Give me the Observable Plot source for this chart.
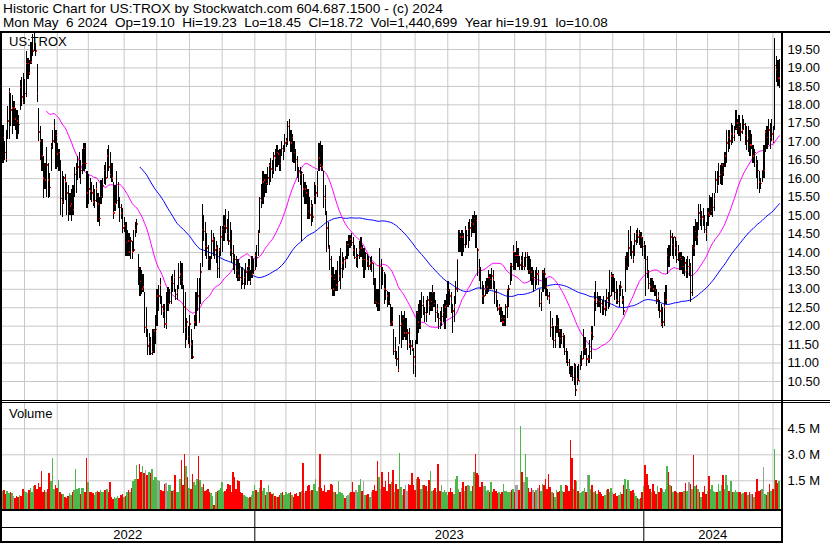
<!DOCTYPE html>
<html><head><meta charset="utf-8">
<script src="https://cdn.jsdelivr.net/npm/d3@7"></script>
<script src="https://cdn.jsdelivr.net/npm/@observablehq/plot@0.6"></script>
<style>
html,body{margin:0;padding:0;background:#fff;}
#wrap{position:relative;width:830px;height:543px;overflow:hidden;font-family:"Liberation Sans",Arial,sans-serif;color:#000;}
.txt{position:absolute;font-size:13px;white-space:pre;line-height:14px;}
.ln{position:absolute;background:#000;}
.panel{position:absolute;left:0;}
</style></head><body>
<div id="wrap">
  <div class="txt" style="left:3px;top:2px;transform:scaleX(1.055);transform-origin:0 0">Historic Chart for US:TROX by Stockwatch.com 604.687.1500 - (c) 2024</div>
  <div class="txt" style="left:3px;top:16px;transform:scaleX(1.04);transform-origin:0 0">Mon May  6 2024  Op=19.10  Hi=19.23  Lo=18.45  Cl=18.72  Vol=1,440,699  Year hi=19.91  lo=10.08</div>
  <div class="panel" id="price" style="top:32px"></div>
  <div class="panel" id="volume" style="top:403px"></div>
  <div class="panel" id="dates" style="top:509px"></div>
  <div class="txt" style="left:9px;top:35px">US:TROX</div>
  <div class="txt" style="left:9px;top:407px">Volume</div>
  <div class="ln" style="left:0;top:31px;width:830px;height:2px"></div>
  <div class="ln" style="left:0;top:400px;width:830px;height:1px"></div>
  <div class="ln" style="left:0;top:402px;width:830px;height:1px"></div>
  <div class="ln" style="left:0;top:509px;width:783px;height:2px"></div>
  <div class="ln" style="left:0;top:527px;width:783px;height:1px"></div>
  <div class="ln" style="left:0;top:541px;width:783px;height:2px"></div>
  <div class="ln" style="left:0;top:31px;width:2px;height:512px"></div>
  <div class="ln" style="left:781px;top:31px;width:2px;height:512px"></div>
</div>
<script>
// ---- data (daily bars, May 2022 - May 6 2024) ----
const high = [
17.4,17.45,17.0,17.3,17.95,18.45,18.3,18.25,18.1,17.9,
17.85,17.7,18.65,18.75,18.85,18.7,19.45,19.25,19.2,19.7,
19.9,19.95,19.65,19.1,17.9,17.4,17.05,16.6,16.4,16.85,
16.4,16.15,16.95,17.3,17.6,17.3,16.95,16.8,16.5,16.2,
16.05,16.1,15.9,15.8,15.6,15.7,15.8,16.3,16.4,16.6,
16.7,16.5,16.8,16.95,16.95,16.2,16.1,16.0,15.9,15.8,
15.7,15.9,15.6,15.5,15.95,16.0,16.35,16.45,16.8,16.9,
16.7,16.4,15.9,15.8,16.2,15.9,15.5,15.3,15.2,14.95,
14.8,14.6,14.5,14.4,14.3,14.6,14.8,14.9,13.95,13.6,
13.5,13.4,12.9,12.5,11.9,11.8,11.7,11.9,11.9,12.3,
13.0,13.1,13.3,12.8,12.6,12.6,12.9,13.05,13.0,13.35,
13.4,13.5,13.0,13.1,13.7,13.75,13.7,13.1,12.9,12.2,
12.0,12.3,11.9,11.6,12.3,12.9,13.3,13.3,13.7,15.3,
15.0,14.8,14.5,14.2,13.9,14.6,14.5,14.4,14.3,14.2,
14.1,14.7,14.7,15.0,15.15,14.9,15.1,14.8,14.6,14.2,
13.95,13.9,13.8,13.7,13.6,13.6,13.5,13.7,13.6,13.8,
13.5,13.9,13.8,14.0,14.2,14.6,15.5,15.85,16.2,16.1,
16.1,16.3,16.4,16.55,16.5,16.7,16.8,16.9,16.75,16.8,
17.0,16.9,17.2,17.1,17.55,17.6,17.3,17.2,17.0,16.8,
16.6,16.3,16.3,16.2,16.1,15.9,15.8,15.7,15.5,15.4,
15.3,15.9,15.8,16.2,16.95,17.0,16.9,16.2,15.8,15.1,
14.8,14.2,13.9,13.6,13.4,13.5,13.75,13.9,14.1,14.0,
13.85,13.9,14.3,14.45,14.45,14.5,14.4,14.2,14.1,13.95,
14.3,14.4,14.2,14.1,14.0,13.95,13.9,13.85,13.9,13.7,
13.3,13.0,13.0,14.1,13.8,13.6,13.45,13.4,12.95,12.9,
12.6,12.5,11.9,11.7,11.3,11.45,12.3,12.4,12.3,12.4,
12.2,11.9,11.95,11.6,11.6,11.4,11.6,12.4,12.6,12.7,
12.9,12.8,12.5,12.7,12.8,12.9,12.9,13.1,12.9,12.7,
12.6,12.35,12.4,12.5,12.6,12.7,12.85,13.2,13.0,12.9,
12.6,12.8,13.2,13.8,14.6,14.5,14.6,14.5,14.7,14.6,
14.8,14.9,14.9,15.0,15.1,15.0,14.1,13.8,13.6,13.2,
13.1,13.2,13.3,13.5,13.4,13.55,13.5,13.2,13.0,12.7,
12.6,12.5,12.4,12.3,12.6,13.0,13.1,13.7,13.7,14.2,
14.0,14.3,14.1,13.9,13.9,14.0,13.85,14.0,14.0,13.9,
13.8,13.6,13.5,13.5,13.6,13.5,13.0,12.9,13.5,13.55,
13.3,13.0,12.9,12.4,12.2,12.0,12.0,12.3,12.2,11.9,
11.9,11.8,11.75,11.4,11.3,11.1,10.9,10.9,11.0,10.95,
10.9,10.95,11.2,11.3,11.9,11.7,11.4,11.2,11.6,12.0,
12.0,12.9,13.2,12.9,12.8,12.8,12.7,12.8,12.7,13.0,
12.9,13.5,13.45,13.4,13.3,13.2,13.0,13.1,13.2,13.0,
12.8,13.9,14.0,14.6,14.7,14.3,14.2,14.5,14.6,14.65,
14.6,14.55,14.4,14.3,14.2,13.9,13.5,13.3,13.3,13.2,
13.1,13.0,12.9,12.7,12.6,12.5,12.9,13.1,14.1,14.2,
14.6,14.5,14.4,14.4,14.3,14.2,14.0,14.0,13.9,13.85,
13.8,13.9,13.8,13.7,14.2,14.7,14.9,14.8,15.3,15.3,
15.1,15.2,15.0,14.8,15.2,15.55,15.5,15.6,15.6,16.2,
16.2,16.4,16.35,16.4,16.4,16.7,17.3,17.3,17.3,17.5,
17.45,17.4,17.85,17.6,17.7,17.5,17.7,17.6,17.5,17.4,
17.4,17.3,17.2,16.9,16.8,16.6,16.5,16.2,16.0,16.2,
16.9,17.3,17.4,17.6,17.5,17.6,17.4,19.8,19.3,19.2,
19.23];
const low = [
16.3,16.4,16.5,16.45,17.05,17.05,17.4,17.2,17.4,17.3,
17.05,17.2,17.85,17.95,18.0,18.0,18.2,18.7,18.8,19.1,
19.3,19.45,19.3,18.05,17.0,16.5,16.2,15.45,15.7,15.5,
15.45,15.5,16.2,16.8,16.95,16.25,16.3,16.2,15.0,14.95,
15.3,15.4,15.0,14.85,15.0,14.85,15.0,15.5,15.6,15.95,
16.0,15.85,16.1,16.2,16.25,15.2,15.3,15.4,15.35,15.25,
15.2,15.35,14.8,14.7,15.3,15.45,15.85,15.8,16.0,16.2,
16.0,15.9,14.9,15.1,15.3,15.2,14.8,14.9,14.5,14.55,
13.9,13.9,13.9,13.8,13.8,14.0,14.4,14.5,13.1,12.8,
12.85,12.9,11.8,11.7,11.2,11.2,11.2,11.2,11.25,11.5,
12.0,12.4,12.6,12.3,12.2,11.95,11.9,12.4,12.6,12.6,
12.9,12.9,12.7,12.7,13.0,13.1,13.0,11.8,11.4,11.6,
11.5,11.4,11.1,11.1,11.9,12.0,12.4,12.1,12.6,13.6,
14.3,13.9,13.8,13.5,13.5,13.8,13.9,13.8,13.7,13.3,
13.3,13.9,14.0,14.3,14.5,14.3,14.2,13.9,13.7,13.5,
13.4,13.3,13.2,13.2,13.0,13.1,13.0,13.1,13.1,13.2,
13.1,13.3,13.4,13.5,13.6,13.9,14.5,15.2,15.3,15.5,
15.6,15.8,15.8,15.9,16.0,16.1,16.2,16.3,16.35,16.2,
16.6,16.5,16.7,16.85,16.9,17.0,16.7,16.45,16.4,16.2,
16.0,15.9,15.8,14.3,15.5,15.3,15.3,14.9,14.9,14.7,
14.8,15.3,15.3,15.5,16.2,16.3,16.2,15.2,15.0,14.0,
14.1,13.5,13.0,12.8,12.8,12.95,12.95,13.2,13.0,13.3,
13.5,13.55,13.8,13.9,14.1,14.15,13.9,13.8,13.6,13.55,
13.8,13.85,13.6,13.3,13.5,13.6,13.5,13.5,13.45,13.1,
12.6,12.5,12.4,12.4,13.0,13.1,12.6,12.7,12.5,12.55,
12.0,12.0,11.2,11.1,10.9,10.75,11.5,11.4,11.6,11.7,
11.6,11.35,11.4,11.2,11.3,10.7,10.6,11.5,11.8,11.9,
12.2,12.3,12.1,12.1,12.35,12.3,12.4,12.4,12.5,12.1,
12.2,11.9,11.9,12.0,12.1,11.9,12.2,12.5,12.55,12.35,
11.8,12.1,12.6,12.9,14.0,14.0,13.9,14.0,14.1,14.2,
14.1,14.3,14.4,14.5,14.5,14.1,13.35,13.2,13.0,12.6,
12.6,12.8,12.85,12.9,13.0,13.0,13.0,12.6,12.5,12.4,
12.3,12.1,12.0,12.0,12.0,12.2,12.5,13.1,13.2,13.5,
13.5,13.7,13.6,13.5,13.5,13.5,13.5,13.6,13.5,13.4,
13.2,13.1,12.9,13.0,13.1,13.1,12.5,12.4,12.9,13.0,
12.8,12.7,12.6,11.7,11.6,11.4,11.4,11.8,11.7,11.4,
11.5,11.4,11.2,11.0,10.9,10.7,10.6,10.5,10.4,10.08,
10.4,10.5,10.8,10.9,11.1,11.2,10.9,11.0,11.0,11.1,
11.6,12.0,12.4,12.5,12.5,12.35,12.3,12.3,12.25,12.4,
12.45,12.5,12.8,12.9,12.7,12.6,12.6,12.5,12.8,12.6,
12.3,12.9,13.5,13.6,13.9,13.8,13.7,13.9,14.2,14.25,
14.2,14.1,13.9,13.8,12.8,13.3,13.0,12.9,12.9,12.9,
12.8,12.6,12.4,12.2,12.0,11.95,12.0,12.6,13.4,13.6,
13.9,13.9,13.8,13.9,13.7,13.75,13.5,13.5,13.4,13.35,
13.3,13.3,13.35,12.65,12.8,13.9,14.3,14.2,14.6,14.7,
14.6,14.7,14.5,14.3,14.7,14.95,15.0,14.95,15.1,15.6,
15.6,15.8,15.85,15.8,16.05,16.3,16.4,16.7,16.8,16.9,
16.95,17.0,17.3,17.2,17.15,17.0,17.2,17.3,16.9,16.75,
16.7,16.6,16.8,16.4,16.3,16.0,15.7,15.6,15.7,15.9,
16.0,16.7,16.8,16.9,16.8,17.0,16.95,17.3,18.6,18.5,
18.45];
const close = [
16.9,17.1,16.7,16.5,17.55,18.35,17.85,17.9,17.9,17.6,
17.55,17.45,18.45,18.2,18.05,18.3,19.1,19.1,18.85,19.15,
19.45,19.6,19.45,18.3,17.25,17.0,16.6,16.0,15.95,16.35,
15.95,15.75,16.85,17.0,17.4,17.15,16.65,16.7,15.45,15.35,
16.0,15.9,15.6,15.1,15.25,15.3,15.15,16.1,16.2,16.3,
16.5,16.2,16.4,16.8,16.4,15.6,15.7,15.65,15.6,15.35,
15.4,15.7,15.3,14.9,15.5,15.8,16.2,16.0,16.6,16.3,
16.1,16.0,15.05,15.3,15.4,15.8,15.2,15.05,14.65,14.7,
14.25,14.3,14.0,14.3,14.0,14.05,14.6,14.75,13.55,13.2,
13.0,13.05,11.95,11.95,11.45,11.55,11.25,11.3,11.85,11.9,
12.8,12.8,13.1,12.5,12.4,12.05,12.05,12.6,12.65,13.2,
13.15,13.3,12.85,12.9,13.3,13.4,13.2,12.5,11.95,12.1,
11.7,12.05,11.5,11.15,12.1,12.3,12.8,12.1,13.45,14.6,
14.55,14.15,14.1,13.8,13.55,14.3,14.35,14.05,14.1,13.55,
14.05,14.4,14.6,14.7,14.65,14.5,14.3,14.05,13.95,13.85,
13.8,13.5,13.35,13.3,13.25,13.15,13.3,13.45,13.5,13.6,
13.2,13.4,13.5,13.9,13.85,14.5,15.45,15.4,15.9,15.95,
15.85,16.0,16.35,16.25,16.2,16.6,16.55,16.7,16.65,16.4,
16.8,16.75,16.95,17.0,17.4,17.45,16.95,17.1,16.7,16.5,
16.4,16.2,16.1,16.15,15.7,15.7,15.6,15.1,15.0,15.25,
14.95,15.5,15.6,15.8,16.55,16.35,16.3,15.5,15.45,14.65,
14.1,13.8,13.35,13.0,13.25,13.1,13.2,13.35,13.55,13.7,
13.8,13.75,14.2,14.2,14.35,14.25,14.05,13.85,13.85,13.9,
14.05,14.1,13.8,13.8,13.95,13.75,13.62,13.7,13.7,13.3,
12.65,12.63,12.6,13.6,13.6,13.5,13.0,12.95,12.8,12.65,
12.05,12.1,11.3,11.35,11.1,10.8,12.0,12.05,12.2,11.8,
11.8,11.8,11.5,11.45,11.4,11.15,10.95,12.35,12.1,12.0,
12.55,12.6,12.35,12.3,12.7,12.55,12.65,12.9,12.6,12.35,
12.45,12.2,12.1,12.25,12.35,12.5,12.55,12.95,12.8,12.65,
12.4,12.5,13.0,13.8,14.55,14.4,14.4,14.2,14.6,14.45,
14.6,14.65,14.8,14.75,14.9,14.85,14.05,13.55,13.5,12.8,
12.8,13.0,13.05,13.3,13.25,13.35,13.25,12.9,12.85,12.45,
12.5,12.2,12.1,12.2,12.5,12.95,13.0,13.65,13.6,14.0,
13.9,13.9,13.9,13.65,13.75,13.6,13.6,13.85,13.95,13.5,
13.45,13.3,13.3,13.25,13.4,13.4,12.6,12.65,13.45,13.4,
13.05,12.8,12.75,11.95,12.0,11.6,11.65,12.0,11.85,11.65,
11.7,11.75,11.3,11.05,11.0,10.9,10.65,10.6,10.9,10.25,
10.55,10.5,10.95,11.1,11.35,11.4,11.1,11.1,11.3,11.8,
11.7,12.7,12.6,12.7,12.65,12.6,12.55,12.45,12.5,12.75,
12.65,12.8,13.35,13.35,12.9,12.7,12.65,12.9,13.05,12.7,
12.4,13.85,13.6,14.1,14.5,14.0,13.8,14.3,14.5,14.4,
14.5,14.4,14.15,14.2,13.8,13.45,13.15,13.05,13.25,13.0,
12.95,12.7,12.8,12.4,12.05,12.1,12.5,12.7,13.9,13.8,
14.4,14.2,14.4,14.1,13.8,14.0,13.85,13.8,13.6,13.7,
13.5,13.6,13.6,12.9,14.15,14.1,14.55,14.4,15.05,14.9,
14.95,14.9,14.6,14.5,15.05,15.0,15.1,15.2,15.45,15.95,
15.8,16.05,16.1,16.35,16.15,16.6,16.95,17.1,17.0,17.2,
17.1,17.2,17.35,17.5,17.4,17.25,17.3,17.45,17.15,17.0,
17.1,16.9,16.9,16.6,16.7,16.4,16.2,15.9,15.85,16.2,
16.2,17.25,17.1,17.3,17.1,17.2,17.0,19.05,18.95,18.7,
18.72];
// volume, millions of shares
const volume = [
1.0,0.9,0.95,0.7,0.9,0.75,0.85,0.75,0.6,0.5,
0.6,0.55,0.65,0.6,1.0,0.9,0.85,0.75,0.95,1.05,
0.8,1.15,1.25,1.0,1.35,1.1,2.05,0.8,0.95,0.85,
1.0,1.9,1.45,2.8,1.0,1.25,1.05,1.5,0.85,0.7,
0.7,0.55,0.5,0.6,0.75,0.65,0.85,0.95,2.15,1.0,
1.05,0.7,1.05,1.05,0.8,2.8,1.4,0.85,0.8,0.75,
0.65,0.85,0.9,0.8,0.95,0.8,0.85,0.95,1.0,0.8,
1.4,0.55,0.4,0.55,0.45,0.6,0.5,0.65,0.7,0.55,
0.6,0.85,0.95,0.8,1.05,1.45,1.6,2.4,1.6,2.45,
2.0,2.3,1.9,2.1,1.8,2.0,1.9,2.15,1.5,1.7,
1.7,1.5,1.45,0.95,0.9,1.3,1.35,0.9,1.2,1.2,
0.9,0.95,1.8,0.8,0.85,1.6,2.7,1.2,3.0,2.3,
1.7,1.05,1.0,1.85,1.4,1.2,1.6,2.9,1.5,1.1,
1.3,0.9,0.95,1.0,0.8,0.75,0.6,0.1,0.85,0.9,
0.95,1.05,1.4,0.85,0.9,1.0,1.3,1.2,0.8,1.95,
1.7,1.0,1.5,1.45,0.85,0.75,0.65,0.6,0.55,0.45,
0.55,0.65,0.9,1.2,0.95,0.8,1.05,1.5,0.9,1.05,
0.65,0.8,1.2,0.85,0.7,0.75,0.6,0.55,0.55,0.65,
0.75,0.8,0.65,0.85,0.7,0.75,0.8,0.65,0.55,0.7,
0.75,0.6,0.85,0.9,2.5,0.75,0.9,1.15,1.2,0.9,
0.95,1.3,1.6,0.9,1.1,3.0,1.05,0.9,1.2,0.8,
0.95,0.95,1.3,1.25,0.8,0.85,0.7,1.45,0.85,0.75,
0.65,0.45,0.6,0.65,0.75,0.8,1.4,0.85,0.95,0.8,
1.2,1.6,0.9,1.45,0.65,0.65,0.7,0.55,0.8,0.95,
1.25,0.9,2.6,1.7,1.0,2.0,1.1,1.45,0.9,1.95,
1.3,1.4,2.1,0.8,1.3,1.0,3.05,1.1,0.65,1.0,
1.25,0.9,1.3,1.25,1.9,1.2,0.95,1.6,1.7,1.6,
1.0,1.25,1.25,1.15,0.9,1.5,2.05,0.9,0.95,1.05,
0.8,2.45,0.9,1.2,0.8,0.95,0.85,0.65,0.8,1.05,
0.85,0.7,1.6,1.75,1.0,0.8,1.05,1.4,0.9,1.15,
1.25,1.15,0.9,1.15,1.95,3.0,1.9,1.8,1.1,1.4,
1.15,1.15,0.9,0.95,0.85,1.4,0.85,1.0,0.9,0.75,
0.85,0.7,0.8,1.3,0.9,0.9,0.85,0.8,0.95,1.0,
0.8,1.25,1.25,0.95,4.65,1.95,1.4,3.0,1.7,1.05,
0.8,1.05,0.95,0.85,0.95,1.05,1.25,0.9,1.3,1.25,
1.6,1.0,1.85,1.1,0.8,0.75,0.55,0.95,0.8,0.9,
1.25,0.9,0.8,1.25,1.15,0.9,3.8,2.8,1.0,1.5,
1.45,0.9,0.75,0.85,0.9,1.05,0.8,1.8,1.8,1.0,
1.2,0.8,0.9,0.7,0.95,0.85,0.7,0.6,0.65,0.95,
1.0,0.8,1.05,0.85,0.7,0.75,0.6,0.65,0.8,0.7,
1.25,1.6,1.0,1.5,1.0,0.9,0.95,0.75,0.6,0.45,
0.4,0.5,0.8,1.15,2.4,1.85,1.25,1.0,0.85,1.3,
0.9,0.7,1.15,0.8,1.05,1.0,0.85,1.0,2.3,2.0,
1.2,1.15,0.85,0.9,0.8,0.75,0.85,0.8,0.85,0.9,
1.35,0.9,1.4,1.3,1.0,2.95,1.15,1.25,1.0,0.85,
0.55,0.8,1.15,0.7,0.9,1.75,1.0,1.25,0.9,0.8,
0.85,1.3,0.9,1.25,1.8,1.0,1.8,1.25,0.9,1.45,
0.8,0.85,0.95,0.8,0.85,0.85,0.7,0.75,0.85,0.8,
0.65,0.85,0.7,0.7,0.55,0.8,1.6,0.9,0.95,1.0,
2.25,0.7,0.65,0.8,1.3,0.9,1.0,3.3,1.5,1.35,
1.44];
// bar index of the first trading day of each month (Jun 2022 ... May 2024)
const monthStarts = [16,37,57,80,101,122,143,164,184,203,226,245,267,288,308,331,351,373,394,414,435,455,475,497];
const yearStarts = [164, 414];
const yearLabels = ["2022", "2023", "2024"];
const priceTicks = [10.5,11,11.5,12,12.5,13,13.5,14,14.5,15,15.5,16,16.5,17,17.5,18,18.5,19,19.5];
const volumeTicks = [1.5, 3.0, 4.5];
const maShort = 30, maLong = 90;

// ---- chart ----
const N = Math.min(high.length, low.length, close.length, volume.length);
const idx = d3.range(N);
const xDomain = [-0.643, 501.29];
const grid = "#c8c8c8";
const font = "Liberation Sans, Arial, sans-serif";
const gridX = monthStarts.map(m => m - 1.2);
function sma(k) { return idx.map(i => i < k - 1 ? NaN : d3.mean(close.slice(i - k + 1, i + 1))); }
const ma1 = sma(maShort), ma2 = sma(maLong);
const volColor = idx.map(i => i === 0 ? "#a0a0a0" : close[i] > close[i-1] ? "#4cb84c" : close[i] < close[i-1] ? "#ff0000" : "#a0a0a0");
const style = {background: "transparent", fontFamily: font, fontSize: "13px", color: "#000", overflow: "visible"};

const price = Plot.plot({
  width: 830, height: 368, marginTop: 0, marginBottom: 0, marginLeft: 0, marginRight: 49,
  x: {domain: xDomain, axis: null},
  y: {domain: [9.985, 19.961], axis: null},
  style,
  marks: [
    Plot.ruleY(priceTicks, {stroke: grid, strokeOpacity: 1}),
    Plot.ruleX(gridX, {stroke: grid, strokeOpacity: 1}),
    Plot.line(idx, {x: i => i, y: i => ma2[i], stroke: "#0000ff", strokeWidth: 1}),
    Plot.line(idx, {x: i => i, y: i => ma1[i], stroke: "#ff00ff", strokeWidth: 1}),
    Plot.ruleX(idx, {x: i => i, y1: i => low[i], y2: i => high[i], stroke: "#000", strokeWidth: 1.2, shapeRendering: "crispEdges"}),
    Plot.rect(idx, {x1: i => i + 0.3, x2: i => i + 0.95, y1: i => close[i] - 0.02, y2: i => close[i] + 0.02, fill: "#ff0000", shapeRendering: "crispEdges"}),
    Plot.axisY(priceTicks, {anchor: "right", tickSize: 0, tickPadding: 6, tickFormat: d => d.toFixed(2), fill: "#000", fontSize: 13})
  ]
});
document.getElementById("price").appendChild(price);

const vol = Plot.plot({
  width: 830, height: 106, marginTop: 0, marginBottom: 0, marginLeft: 0, marginRight: 49,
  x: {domain: xDomain, axis: null},
  y: {domain: [-0.156, 5.96], axis: null},
  style,
  marks: [
    Plot.ruleY(volumeTicks, {stroke: grid, strokeOpacity: 1}),
    Plot.ruleX(gridX, {stroke: grid, strokeOpacity: 1}),
    Plot.rect(idx, {x1: i => i - 0.5, x2: i => i + 0.5, y1: -0.156, y2: i => volume[i], fill: i => volColor[i], shapeRendering: "crispEdges"}),
    Plot.axisY(volumeTicks, {anchor: "right", tickSize: 0, tickPadding: 6, tickFormat: d => d.toFixed(1) + " M", fill: "#000", fontSize: 13})
  ]
});
document.getElementById("volume").appendChild(vol);

const bounds = [xDomain[0], ...yearStarts.map(y => y - 1.2), xDomain[1]];
const yearCenters = yearLabels.map((_, k) => (bounds[k] + bounds[k + 1]) / 2);
const dates = Plot.plot({
  width: 830, height: 34, marginTop: 0, marginBottom: 0, marginLeft: 0, marginRight: 49,
  x: {domain: xDomain, axis: null},
  y: {domain: [34, 0], axis: null},
  style,
  marks: [
    Plot.ruleX(yearStarts, {x: d => d - 1.2, y1: 2, y2: 33, stroke: "#000", strokeWidth: 1}),
    Plot.text(yearLabels, {x: (d, k) => yearCenters[k], y: 25.5, text: d => d, fill: "#000", fontSize: 13, textAnchor: "middle"})
  ]
});
document.getElementById("dates").appendChild(dates);
</script>
</body></html>
